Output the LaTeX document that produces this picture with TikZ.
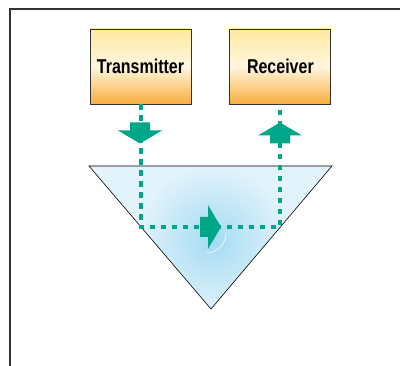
\documentclass[tikz,border=0pt]{standalone}
\usepackage{fontspec}
\newfontfamily\boxfont[FakeStretch=0.8]{Liberation Sans}
\usetikzlibrary{positioning}
\definecolor{ink}{HTML}{333333}
\definecolor{signal}{HTML}{00A688}
\definecolor{boxtop}{HTML}{FFE9A0}
\definecolor{boxmid}{HTML}{FFF6DE}
\definecolor{boxbot}{HTML}{F8AE3C}
\definecolor{prism}{HTML}{E2F3FB}
\definecolor{glow}{HTML}{A4DBF3}

\tikzset{
  unit/.style={draw=ink,line width=0.9pt,top color=boxtop,bottom color=boxbot,middle color=boxmid,
    minimum width=101pt,minimum height=75pt,inner sep=0pt,font=\boxfont\bfseries\fontsize{20}{20}\selectfont},
  beam/.style={signal,line width=4pt,dash pattern=on 5.5pt off 5.5pt},
  blockarrow/.pic={\fill[signal] (-10.5,-10) -- (-2.5,-10) -- (-2.5,-22) -- (10.5,0) -- (-2.5,22) -- (-2.5,10) -- (-10.5,10) -- cycle;}
}

\begin{document}
\begin{tikzpicture}[x=1pt,y=-1pt]
\useasboundingbox (0,0) rectangle (400,366);
% open frame, left and top edges only
\draw[ink,line width=1.7pt] (10,366) -- (10,9) -- (400,9);

\node[unit] (tx) at (140.5,66.5) {Transmitter};
\node[unit,right=38pt of tx] (rx) {Receiver};

% prism with a soft glow in the middle
\coordinate (pl) at (89,166);
\coordinate (pr) at (332,166);
\coordinate (pb) at (211,309);
\fill[prism] (pl) -- (pr) -- (pb) -- cycle;
\begin{scope}
  \clip (pl) -- (pr) -- (pb) -- cycle;
  \shade[inner color=glow,outer color=prism] (213,240) circle (75);
\end{scope}
\draw[black,line width=0.6pt] (pl) -- (pr) -- (pb) -- cycle;

% beam path through the prism
\coordinate (turn) at (211,227);
\draw[beam] (tx.south) -- (tx.south |- turn) -- (rx.south |- turn) -- (rx.south);

\pic[rotate=-90] at (140,133) {blockarrow};
\pic[rotate=90] at (280,133) {blockarrow};
\pic at (210.5,227) {blockarrow};
\draw[white,line width=0.7pt,opacity=0.85] (226,233) arc[start angle=0,end angle=90,radius=20];
\end{tikzpicture}
\end{document}
